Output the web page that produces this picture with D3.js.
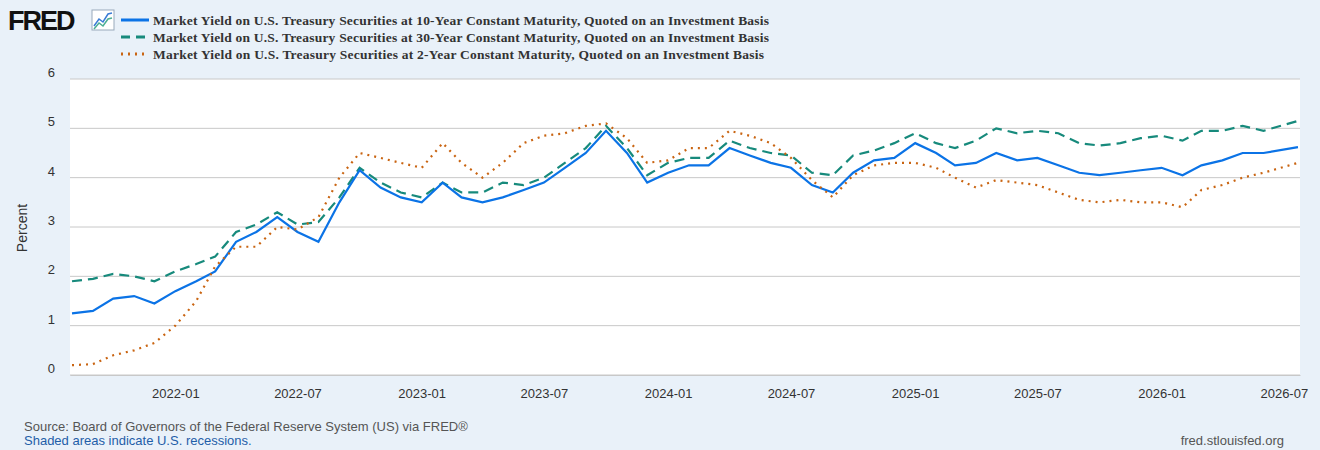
<!DOCTYPE html>
<html lang="en">
<head>
<meta charset="UTF-8">
<script src="https://d3js.org/d3.v7.min.js"></script>
<style>
  body { margin: 0; background: #e9f1f9; }
  text { font-family: "Liberation Sans", Arial, sans-serif; }
</style>
</head>
<body>
<div id="chart"></div>
<script>
var dates = [
  "2021-08-01","2021-09-01","2021-10-01","2021-11-01","2021-12-01",
  "2022-01-01","2022-02-01","2022-03-01","2022-04-01","2022-05-01","2022-06-01","2022-07-01","2022-08-01","2022-09-01","2022-10-01","2022-11-01","2022-12-01",
  "2023-01-01","2023-02-01","2023-03-01","2023-04-01","2023-05-01","2023-06-01","2023-07-01","2023-08-01","2023-09-01","2023-10-01","2023-11-01","2023-12-01",
  "2024-01-01","2024-02-01","2024-03-01","2024-04-01","2024-05-01","2024-06-01","2024-07-01","2024-08-01","2024-09-01","2024-10-01","2024-11-01","2024-12-01",
  "2025-01-01","2025-02-01","2025-03-01","2025-04-01","2025-05-01","2025-06-01","2025-07-01","2025-08-01","2025-09-01","2025-10-01","2025-11-01","2025-12-01",
  "2026-01-01","2026-02-01","2026-03-01","2026-04-01","2026-05-01","2026-06-01","2026-07-22"
];
var y10 = [1.25,1.3,1.55,1.6,1.45,
  1.7,1.9,2.1,2.7,2.9,3.2,2.9,2.7,3.5,4.15,3.8,3.6,
  3.5,3.9,3.6,3.5,3.6,3.75,3.9,4.2,4.5,4.95,4.5,3.9,
  4.1,4.25,4.25,4.6,4.45,4.3,4.2,3.85,3.7,4.1,4.35,4.4,
  4.7,4.5,4.25,4.3,4.5,4.35,4.4,4.25,4.1,4.05,4.1,4.15,
  4.2,4.05,4.25,4.35,4.5,4.5,4.62];
var y30 = [1.9,1.95,2.05,2.0,1.9,
  2.1,2.25,2.4,2.9,3.05,3.3,3.05,3.1,3.6,4.2,3.9,3.7,
  3.6,3.9,3.7,3.7,3.9,3.85,4.0,4.3,4.6,5.05,4.6,4.05,
  4.3,4.4,4.4,4.75,4.6,4.5,4.45,4.1,4.05,4.45,4.55,4.7,
  4.9,4.7,4.6,4.75,5.0,4.9,4.95,4.9,4.7,4.65,4.7,4.8,
  4.85,4.75,4.95,4.95,5.05,4.95,5.15];
var y2 = [0.2,0.22,0.4,0.5,0.65,
  1.0,1.5,2.2,2.6,2.6,3.0,2.95,3.2,4.0,4.5,4.4,4.3,
  4.2,4.7,4.3,4.0,4.3,4.7,4.85,4.9,5.05,5.1,4.8,4.3,
  4.35,4.6,4.6,4.95,4.85,4.7,4.4,3.95,3.6,4.05,4.25,4.3,
  4.3,4.2,4.0,3.8,3.95,3.9,3.85,3.7,3.55,3.5,3.55,3.5,
  3.5,3.4,3.75,3.85,4.0,4.1,4.3];
var yTicks = [0,1,2,3,4,5,6];
var xTicks = ["2022-01-01","2022-07-01","2023-01-01","2023-07-01","2024-01-01","2024-07-01","2025-01-01","2025-07-01","2026-01-01","2026-07-01"];
var seriesNames = [
  "Market Yield on U.S. Treasury Securities at 10-Year Constant Maturity, Quoted on an Investment Basis",
  "Market Yield on U.S. Treasury Securities at 30-Year Constant Maturity, Quoted on an Investment Basis",
  "Market Yield on U.S. Treasury Securities at 2-Year Constant Maturity, Quoted on an Investment Basis"
];

var W = 1320, H = 450;
var m = {left: 70, right: 20, top: 79, bottom: 75};
var parse = d3.timeParse("%Y-%m-%d");
var dd = dates.map(parse);

var svg = d3.select("#chart").append("svg").attr("width", W).attr("height", H);

var x = d3.scaleTime()
  .domain([parse("2021-07-29"), parse("2026-07-25")])
  .range([m.left, W - m.right]);
var y = d3.scaleLinear().domain([0, 6]).range([H - m.bottom, m.top]);

svg.append("rect").attr("x", m.left).attr("y", m.top)
  .attr("width", W - m.left - m.right).attr("height", H - m.top - m.bottom)
  .attr("fill", "#fff");

// grid
svg.selectAll(".grid").data(yTicks).enter().append("line")
  .attr("x1", m.left).attr("x2", W - m.right)
  .attr("y1", function(d) { return y(d); }).attr("y2", function(d) { return y(d); })
  .attr("stroke", "#c8c8c8").attr("stroke-width", 1);

// y labels
svg.selectAll(".yl").data(yTicks).enter().append("text")
  .attr("x", 55).attr("y", function(d) { return y(d) - 2; })
  .attr("text-anchor", "end").attr("font-size", 13).attr("fill", "#333")
  .text(function(d) { return d; });

svg.append("text").attr("transform", "translate(27,228) rotate(-90)")
  .attr("text-anchor", "middle").attr("font-size", 14).attr("fill", "#333").text("Percent");

// x axis
var xa = svg.append("g").attr("transform", "translate(0," + (H - m.bottom) + ")")
  .call(d3.axisBottom(x).tickValues(xTicks.map(parse)).tickFormat(d3.timeFormat("%Y-%m")).tickSize(0));
xa.select(".domain").attr("stroke", "#c8c8c8");
xa.selectAll("text").attr("font-size", 13).attr("fill", "#333").attr("dy", "1.5em")
  .attr("font-family", "Liberation Sans, Arial, sans-serif");

var series = [
  {vals: y30, color: "#178a7c", dash: "10,6", w: 2.2},
  {vals: y10, color: "#0b73e6", dash: null, w: 2.2},
  {vals: y2, color: "#c96411", dash: "2,5", w: 2.2}
];
var line = d3.line().x(function(d, i) { return x(dd[i]); });
series.forEach(function(s) {
  svg.append("path")
    .attr("d", line.y(function(d) { return y(d); })(s.vals))
    .attr("fill", "none").attr("stroke", s.color).attr("stroke-width", s.w)
    .attr("stroke-dasharray", s.dash);
});

// header
svg.append("text").attr("x", 8).attr("y", 30).attr("font-size", 27).attr("font-weight", "bold")
  .attr("fill", "#111").attr("letter-spacing", -2).text("FRED");
var ic = svg.append("g").attr("transform", "translate(92,10)");
ic.append("rect").attr("width", 22).attr("height", 20).attr("fill", "#fff").attr("stroke", "#9ab");
ic.append("polyline").attr("points", "2,16 7,9 11,12 16,4 20,3").attr("fill", "none").attr("stroke", "#3a7bd5").attr("stroke-width", 1.5);
ic.append("polyline").attr("points", "2,19 7,13 11,16 16,9 20,8").attr("fill", "none").attr("stroke", "#4caf93").attr("stroke-width", 1.5);

var legStyle = [
  {color: "#0b73e6", dash: null},
  {color: "#178a7c", dash: "9,6"},
  {color: "#c96411", dash: "2,5"}
];
seriesNames.forEach(function(n, i) {
  var yy = 20 + i * 17;
  svg.append("line").attr("x1", 121).attr("x2", 149).attr("y1", yy).attr("y2", yy)
    .attr("stroke", legStyle[i].color).attr("stroke-width", 3).attr("stroke-dasharray", legStyle[i].dash);
  svg.append("text").attr("x", 153).attr("y", yy + 4.5).attr("font-size", 13.5)
    .attr("font-weight", "bold").attr("fill", "#333")
    .style("font-family", "Liberation Serif, Times New Roman, serif")
    .attr("textLength", i === 2 ? 611 : 616).text(n);
});

// footer
svg.append("text").attr("x", 24).attr("y", 431).attr("font-size", 13).attr("fill", "#555")
  .text("Source: Board of Governors of the Federal Reserve System (US) via FRED®");
svg.append("text").attr("x", 24).attr("y", 445).attr("font-size", 13).attr("fill", "#1f5ea8")
  .text("Shaded areas indicate U.S. recessions.");
svg.append("text").attr("x", 1284).attr("y", 445).attr("font-size", 13).attr("fill", "#555")
  .attr("text-anchor", "end").text("fred.stlouisfed.org");
</script>
</body>
</html>
